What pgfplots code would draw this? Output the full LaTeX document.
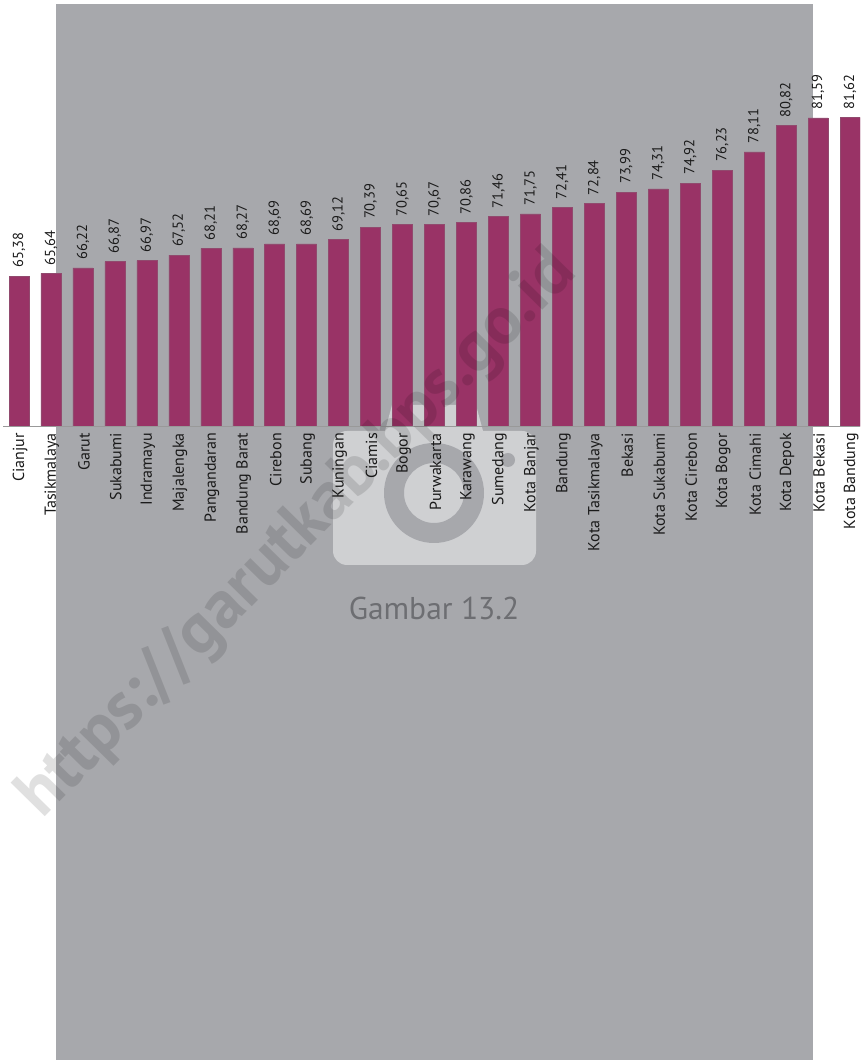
\documentclass[border=0pt]{standalone}
\usepackage{pgfplots}
\usepackage{fontspec}
\setmainfont{PT Sans}
\pgfplotsset{compat=1.18}
\definecolor{panel}{HTML}{A7A8AC}
\definecolor{cam}{HTML}{CFD0D2}
\definecolor{barc}{HTML}{993366}
\definecolor{txt}{HTML}{1A1A1A}
\definecolor{cap}{HTML}{6D6E72}
\begin{document}
\begin{tikzpicture}
\path[use as bounding box] (0,0) rectangle (860pt,1060pt);
\clip (0,0) rectangle (860pt,1060pt);
\begin{scope}[x=1pt,y=-1pt,yshift=1060pt]
\fill[panel] (56,4) rectangle (813,1060);
\fill[cam] (385,431) -- (392,405) -- (476,405) -- (483,431) -- cycle;
\fill[cam,rounded corners=14pt] (333,431) rectangle (536,565);
\fill[panel,even odd rule] (434,493) circle (50) (434,493) circle (30);
\fill[panel] (508,460) circle (7);
\node[text=cap,font=\fontsize{31.5}{34}\selectfont] at (434,608) {Gambar 13.2};
\end{scope}
\begin{axis}[
  at={(0,634pt)}, anchor=south west,
  width=860pt, height=426pt, scale only axis,
  xmin=-0.5945, xmax=26.31, ymin=50, ymax=93.69,
  clip=false,
  ybar, bar width=20pt, bar shift=0pt,
  axis y line=none,
  axis x line*=bottom,
  x axis line style={draw=none,-},
  xtick=data,
  xtick style={draw=none},
  xticklabels={Cianjur,Tasikmalaya,Garut,Sukabumi,Indramayu,Majalengka,Pangandaran,Bandung Barat,Cirebon,Subang,Kuningan,Ciamis,Bogor,Purwakarta,Karawang,Sumedang,Kota Banjar,Bandung,Kota Tasikmalaya,Bekasi,Kota Sukabumi,Kota Cirebon,Kota Bogor,Kota Cimahi,Kota Depok,Kota Bekasi,Kota Bandung},
  xticklabel style={rotate=90,anchor=east,font=\fontsize{16}{18}\selectfont,text=txt,inner sep=0pt,xshift=-7pt,yshift=-1pt},
  major tick length=0pt,
  nodes near coords,
  /pgf/number format/assume math mode=true,
  /pgf/number format/use comma,
  /pgf/number format/fixed,
  /pgf/number format/fixed zerofill,
  /pgf/number format/precision=2,
  nodes near coords style={rotate=90,anchor=west,font=\fontsize{14.5}{16}\selectfont,text=txt,inner sep=0pt,xshift=8pt},
]
\addplot[fill=barc,draw=barc!70!gray,line width=0.5pt] coordinates {
(0,65.38)(1,65.64)(2,66.22)(3,66.87)(4,66.97)(5,67.52)(6,68.21)(7,68.27)(8,68.69)
(9,68.69)(10,69.12)(11,70.39)(12,70.65)(13,70.67)(14,70.86)(15,71.46)(16,71.75)(17,72.41)
(18,72.84)(19,73.99)(20,74.31)(21,74.92)(22,76.23)(23,78.11)(24,80.82)(25,81.59)(26,81.62)};
\draw[gray!80,line width=0.6pt] (axis cs:-0.5,50) -- (axis cs:26.31,50);
\end{axis}
\begin{scope}[x=1pt,y=-1pt,yshift=1060pt]
\node[rotate=45.5,font=\fontsize{68.5}{72}\bfseries\selectfont,text=black,text opacity=0.12] at (298,535) {https://garutkab.bps.go.id};
\end{scope}
\end{tikzpicture}
\end{document}
